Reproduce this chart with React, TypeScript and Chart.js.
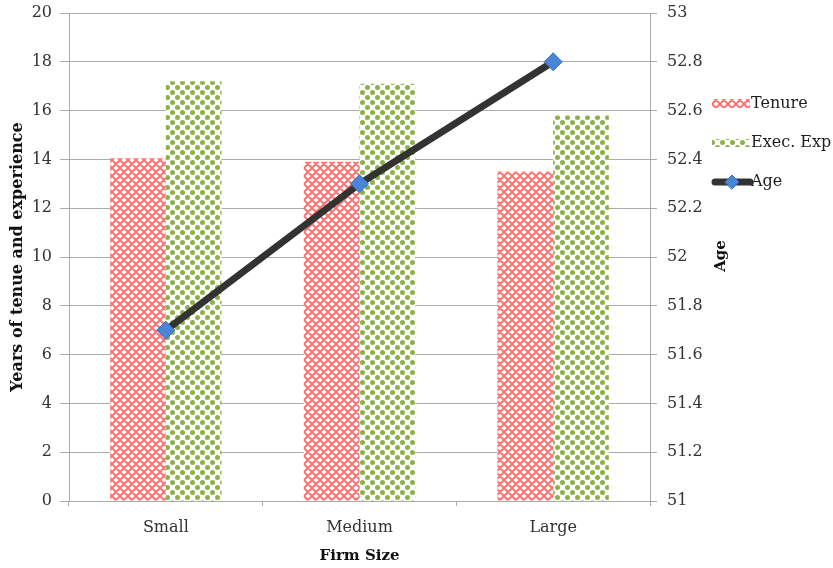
import React, { useEffect, useRef } from 'react';
import { Chart, registerables } from 'chart.js';

Chart.register(...registerables);

const categories = ['Small', 'Medium', 'Large'];
const tenure = [14.05, 13.9, 13.5];
const execExp = [17.2, 17.1, 15.8];
const age = [51.7, 52.3, 52.8];
const seriesNames = ['Tenure', 'Exec. Exp', 'Age'];
const leftTitle = 'Years of tenue and experience';
const rightTitle = 'Age';
const xTitle = 'Firm Size';

const FONT = 'DejaVu Serif';
const GRID = '#ababab';
const TICK_COLOR = '#333333';

function makeRedPattern(): CanvasPattern {
  const c = document.createElement('canvas');
  c.width = 8;
  c.height = 8;
  const g = c.getContext('2d')!;
  g.fillStyle = '#ffffff';
  g.fillRect(0, 0, 8, 8);
  g.strokeStyle = '#ff7373';
  g.lineWidth = 2;
  g.beginPath();
  for (const dx of [-8, 0, 8]) {
    g.moveTo(dx - 1, -1);
    g.lineTo(dx + 9, 9);
    g.moveTo(dx - 1, 9);
    g.lineTo(dx + 9, -1);
  }
  g.stroke();
  return g.createPattern(c, 'repeat')!;
}

function makeGreenPattern(): CanvasPattern {
  const c = document.createElement('canvas');
  c.width = 10;
  c.height = 10;
  const g = c.getContext('2d')!;
  g.fillStyle = '#ffffff';
  g.fillRect(0, 0, 10, 10);
  g.fillStyle = '#8cb247';
  const dots = [
    [2.5, 2.5],
    [7.5, 7.5],
    [-2.5, 7.5],
    [12.5, 2.5],
    [7.5, -2.5],
    [2.5, 12.5],
  ];
  for (const [x, y] of dots) {
    g.beginPath();
    g.arc(x, y, 2.5, 0, Math.PI * 2);
    g.fill();
  }
  return g.createPattern(c, 'repeat')!;
}

export default function App() {
  const ref = useRef<HTMLCanvasElement>(null);

  useEffect(() => {
    document.body.style.margin = '0';
    const red = makeRedPattern();
    const green = makeGreenPattern();

    const sidePlugin = {
      id: 'sideLegend',
      afterDraw(chart: any) {
        const ctx = chart.ctx as CanvasRenderingContext2D;
        ctx.save();
        const x0 = 712;
        const sw = 38;
        const rows = [104, 143, 182];
        ctx.font = `16px "${FONT}"`;
        ctx.textBaseline = 'middle';
        ctx.textAlign = 'left';
        ctx.fillStyle = red;
        ctx.fillRect(x0, rows[0] - 5, sw, 9);
        ctx.fillStyle = green;
        ctx.fillRect(x0, rows[1] - 4, sw, 8);
        ctx.strokeStyle = '#333333';
        ctx.lineWidth = 7;
        ctx.lineCap = 'round';
        ctx.beginPath();
        ctx.moveTo(x0 + 3, rows[2]);
        ctx.lineTo(x0 + sw, rows[2]);
        ctx.stroke();
        const cx = x0 + 20;
        const r = 7;
        ctx.fillStyle = '#4a86d8';
        ctx.strokeStyle = '#3a6fb8';
        ctx.lineWidth = 1;
        ctx.beginPath();
        ctx.moveTo(cx - r, rows[2]);
        ctx.lineTo(cx, rows[2] - r);
        ctx.lineTo(cx + r, rows[2]);
        ctx.lineTo(cx, rows[2] + r);
        ctx.closePath();
        ctx.fill();
        ctx.stroke();
        ctx.fillStyle = '#1e1e1e';
        seriesNames.forEach((n, i) => {
          ctx.fillText(n, x0 + sw + 1, rows[i]);
        });
        ctx.translate(721, 256);
        ctx.rotate(-Math.PI / 2);
        ctx.font = `bold 15px "${FONT}"`;
        ctx.textAlign = 'center';
        ctx.fillStyle = '#111111';
        ctx.fillText(rightTitle, 0, 0);
        ctx.restore();
      },
    };

    const chart = new Chart(ref.current!, {
      type: 'bar',
      data: {
        labels: categories,
        datasets: [
          {
            type: 'line',
            label: seriesNames[2],
            data: age,
            yAxisID: 'y1',
            borderColor: '#333333',
            borderWidth: 7,
            pointStyle: 'rectRot',
            pointRadius: 9,
            pointBackgroundColor: '#4a86d8',
            pointBorderColor: '#3a6fb8',
            pointBorderWidth: 1,
            tension: 0,
            order: 0,
          } as any,
          {
            type: 'bar',
            label: seriesNames[0],
            data: tenure,
            yAxisID: 'y',
            backgroundColor: red,
            borderWidth: 0,
            categoryPercentage: 0.575,
            barPercentage: 1,
            order: 1,
          },
          {
            type: 'bar',
            label: seriesNames[1],
            data: execExp,
            yAxisID: 'y',
            backgroundColor: green,
            borderWidth: 0,
            categoryPercentage: 0.575,
            barPercentage: 1,
            order: 1,
          },
        ],
      },
      options: {
        animation: false,
        responsive: true,
        maintainAspectRatio: false,
        layout: { padding: { top: 13, left: 0, right: 0, bottom: 0 } },
        plugins: {
          legend: { display: false },
          tooltip: { enabled: false },
        },
        scales: {
          x: {
            offset: true,
            grid: {
              display: true,
              drawOnChartArea: false,
              drawTicks: true,
              tickLength: 5,
              color: GRID,
              offset: true,
            },
            border: { display: true, color: GRID },
            ticks: {
              padding: 12,
              color: TICK_COLOR,
              font: { family: FONT, size: 16 },
            },
            title: {
              display: true,
              text: xTitle,
              color: '#111111',
              font: { family: FONT, size: 15, weight: 'bold' },
              padding: { top: 4, bottom: 3 },
            },
            afterFit: (s: any) => {
              s.height = 67;
              s.paddingLeft = 0;
              s.paddingRight = 0;
            },
          },
          y: {
            position: 'left',
            min: 0,
            max: 20,
            ticks: {
              stepSize: 2,
              padding: 8,
              color: TICK_COLOR,
              font: { family: FONT, size: 16 },
            },
            grid: { color: GRID, tickLength: 9 },
            border: { display: true, color: GRID },
            title: {
              display: true,
              text: leftTitle,
              color: '#111111',
              font: { family: FONT, size: 16, weight: 'bold' },
              padding: { top: 8, bottom: 0 },
            },
            afterFit: (s: any) => {
              s.width = 69;
              s.paddingTop = 0;
              s.paddingBottom = 0;
            },
          },
          y1: {
            position: 'right',
            min: 51,
            max: 53,
            ticks: {
              stepSize: 0.2,
              padding: 10,
              color: TICK_COLOR,
              font: { family: FONT, size: 16 },
              callback: (v: any) => String(Math.round(Number(v) * 10) / 10),
            },
            grid: { drawOnChartArea: false, tickLength: 7, color: GRID },
            border: { display: true, color: GRID },
            afterFit: (s: any) => {
              s.width = 183;
              s.paddingTop = 0;
              s.paddingBottom = 0;
            },
          },
        },
      } as any,
      plugins: [sidePlugin],
    });
    return () => chart.destroy();
  }, []);

  return (
    <div style={{ position: 'relative', width: 833, height: 568 }}>
      <canvas ref={ref} />
    </div>
  );
}
